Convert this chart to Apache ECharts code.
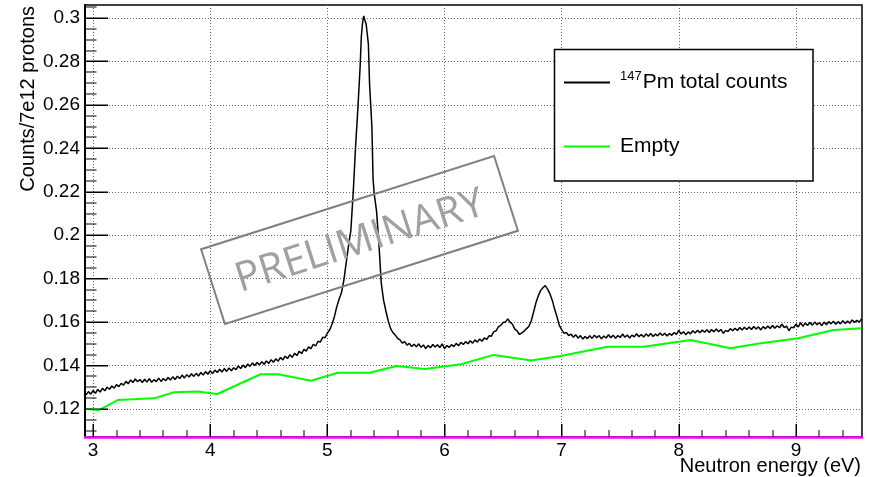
<!DOCTYPE html>
<html><head><meta charset="utf-8">
<script src="https://cdn.jsdelivr.net/npm/echarts@6/dist/echarts.min.js"></script>
<style>html,body{margin:0;padding:0;background:#fff}#c{width:870px;height:477px}</style>
</head><body><div id="c"></div>
<script>
// ---------------- data ----------------
const xTicks = [3, 4, 5, 6, 7, 8, 9];
const yTicks = [0.12, 0.14, 0.16, 0.18, 0.2, 0.22, 0.24, 0.26, 0.28, 0.3];
const xTitle = 'Neutron energy (eV)';
const yTitle = 'Counts/7e12 protons';
const seriesNames = ['147Pm total counts', 'Empty'];
const stampText = 'PRELIMINARY';

// [neutron energy (eV), counts / 7e12 protons]
const pmCounts = [
[2.94,0.1265],[2.96,0.1280],[2.98,0.1268],[3.00,0.1285],[3.02,0.1272],[3.04,0.1290],[3.06,0.1278],[3.08,0.1295],
[3.10,0.1284],[3.12,0.1300],[3.14,0.1291],[3.16,0.1306],[3.18,0.1296],[3.20,0.1312],[3.22,0.1303],[3.24,0.1318],
[3.26,0.1310],[3.28,0.1327],[3.30,0.1316],[3.32,0.1334],[3.34,0.1322],[3.36,0.1338],[3.38,0.1325],[3.40,0.1336],
[3.42,0.1322],[3.44,0.1337],[3.46,0.1324],[3.48,0.1340],[3.50,0.1323],[3.52,0.1335],[3.54,0.1326],[3.56,0.1342],
[3.58,0.1327],[3.60,0.1340],[3.62,0.1330],[3.64,0.1345],[3.66,0.1333],[3.68,0.1348],[3.70,0.1336],[3.72,0.1351],
[3.74,0.1340],[3.76,0.1356],[3.78,0.1343],[3.80,0.1358],[3.82,0.1347],[3.84,0.1362],[3.86,0.1350],[3.88,0.1364],
[3.90,0.1352],[3.92,0.1368],[3.94,0.1356],[3.96,0.1372],[3.98,0.1360],[4.00,0.1376],[4.02,0.1363],[4.04,0.1379],
[4.06,0.1368],[4.08,0.1383],[4.10,0.1370],[4.12,0.1386],[4.14,0.1373],[4.16,0.1389],[4.18,0.1376],[4.20,0.1390],
[4.22,0.1381],[4.24,0.1398],[4.26,0.1386],[4.28,0.1402],[4.30,0.1390],[4.32,0.1407],[4.34,0.1396],[4.36,0.1412],
[4.38,0.1400],[4.40,0.1414],[4.42,0.1403],[4.44,0.1418],[4.46,0.1406],[4.48,0.1421],[4.50,0.1410],[4.52,0.1427],
[4.54,0.1415],[4.56,0.1431],[4.58,0.1420],[4.60,0.1437],[4.62,0.1426],[4.64,0.1443],[4.66,0.1432],[4.68,0.1450],
[4.70,0.1438],[4.72,0.1456],[4.74,0.1446],[4.76,0.1466],[4.78,0.1455],[4.80,0.1474],[4.82,0.1466],[4.84,0.1486],
[4.86,0.1478],[4.88,0.1498],[4.90,0.1490],[4.92,0.1512],[4.94,0.1508],[4.96,0.1530],[4.98,0.1528],[5.00,0.1550],
[5.02,0.1565],[5.04,0.1590],[5.06,0.1625],[5.08,0.1670],[5.10,0.1705],[5.12,0.1735],[5.14,0.1790],[5.16,0.1870],
[5.18,0.1950],[5.20,0.2020],[5.22,0.2190],[5.24,0.2400],[5.26,0.2580],[5.27,0.2680],[5.28,0.2780],[5.29,0.2915],
[5.30,0.2975],[5.31,0.3010],[5.32,0.2990],[5.33,0.2975],[5.34,0.2930],[5.35,0.2880],[5.36,0.2700],[5.37,0.2600],
[5.38,0.2500],[5.39,0.2260],[5.40,0.2190],[5.42,0.2110],[5.44,0.1960],[5.46,0.1780],[5.48,0.1700],[5.50,0.1650],
[5.52,0.1605],[5.54,0.1570],[5.56,0.1552],[5.58,0.1540],[5.60,0.1525],[5.62,0.1518],[5.64,0.1503],[5.66,0.1510],
[5.68,0.1494],[5.70,0.1502],[5.72,0.1488],[5.74,0.1498],[5.76,0.1486],[5.78,0.1500],[5.80,0.1484],[5.82,0.1495],
[5.84,0.1478],[5.86,0.1492],[5.88,0.1482],[5.90,0.1497],[5.92,0.1485],[5.94,0.1496],[5.96,0.1483],[5.98,0.1500],
[6.00,0.1478],[6.02,0.1492],[6.04,0.1484],[6.06,0.1496],[6.08,0.1487],[6.10,0.1502],[6.12,0.1491],[6.14,0.1507],
[6.16,0.1497],[6.18,0.1510],[6.20,0.1500],[6.22,0.1514],[6.24,0.1503],[6.26,0.1518],[6.28,0.1508],[6.30,0.1522],
[6.32,0.1512],[6.34,0.1527],[6.36,0.1520],[6.38,0.1537],[6.40,0.1535],[6.42,0.1555],[6.44,0.1560],[6.46,0.1578],
[6.48,0.1585],[6.50,0.1598],[6.52,0.1600],[6.54,0.1615],[6.56,0.1600],[6.58,0.1590],[6.60,0.1568],[6.62,0.1560],
[6.64,0.1543],[6.66,0.1550],[6.68,0.1558],[6.70,0.1570],[6.72,0.1580],[6.74,0.1605],[6.76,0.1645],[6.78,0.1688],
[6.80,0.1720],[6.82,0.1745],[6.84,0.1758],[6.86,0.1768],[6.88,0.1752],[6.90,0.1730],[6.92,0.1700],[6.94,0.1660],
[6.96,0.1625],[6.98,0.1585],[7.00,0.1565],[7.02,0.1548],[7.04,0.1552],[7.06,0.1538],[7.08,0.1545],[7.10,0.1530],
[7.12,0.1542],[7.14,0.1526],[7.16,0.1538],[7.18,0.1522],[7.20,0.1534],[7.22,0.1524],[7.24,0.1537],[7.26,0.1525],
[7.28,0.1540],[7.30,0.1528],[7.32,0.1538],[7.34,0.1523],[7.36,0.1536],[7.38,0.1527],[7.40,0.1542],[7.42,0.1528],
[7.44,0.1540],[7.46,0.1526],[7.48,0.1538],[7.50,0.1529],[7.52,0.1545],[7.54,0.1530],[7.56,0.1541],[7.58,0.1527],
[7.60,0.1540],[7.62,0.1532],[7.64,0.1546],[7.66,0.1533],[7.68,0.1543],[7.70,0.1531],[7.72,0.1546],[7.74,0.1535],
[7.76,0.1548],[7.78,0.1534],[7.80,0.1545],[7.82,0.1537],[7.84,0.1550],[7.86,0.1538],[7.88,0.1549],[7.90,0.1536],
[7.92,0.1548],[7.94,0.1539],[7.96,0.1552],[7.98,0.1543],[8.00,0.1562],[8.02,0.1545],[8.04,0.1556],[8.06,0.1542],
[8.08,0.1555],[8.10,0.1546],[8.12,0.1560],[8.14,0.1550],[8.16,0.1562],[8.18,0.1551],[8.20,0.1564],[8.22,0.1553],
[8.24,0.1565],[8.26,0.1552],[8.28,0.1566],[8.30,0.1555],[8.32,0.1568],[8.34,0.1556],[8.36,0.1566],[8.38,0.1548],
[8.40,0.1562],[8.42,0.1556],[8.44,0.1570],[8.46,0.1560],[8.48,0.1572],[8.50,0.1561],[8.52,0.1575],[8.54,0.1564],
[8.56,0.1576],[8.58,0.1566],[8.60,0.1578],[8.62,0.1566],[8.64,0.1580],[8.66,0.1568],[8.68,0.1578],[8.70,0.1564],
[8.72,0.1579],[8.74,0.1569],[8.76,0.1582],[8.78,0.1570],[8.80,0.1584],[8.82,0.1572],[8.84,0.1583],[8.86,0.1574],
[8.88,0.1590],[8.90,0.1575],[8.92,0.1582],[8.94,0.1560],[8.96,0.1577],[8.98,0.1574],[9.00,0.1590],[9.02,0.1578],
[9.04,0.1598],[9.06,0.1580],[9.08,0.1596],[9.10,0.1585],[9.12,0.1598],[9.14,0.1586],[9.16,0.1600],[9.18,0.1588],
[9.20,0.1597],[9.22,0.1584],[9.24,0.1600],[9.26,0.1588],[9.28,0.1602],[9.30,0.1592],[9.32,0.1604],[9.34,0.1590],
[9.36,0.1602],[9.38,0.1592],[9.40,0.1606],[9.42,0.1594],[9.44,0.1605],[9.46,0.1595],[9.48,0.1610],[9.50,0.1598],
[9.52,0.1608],[9.54,0.1600],[9.56,0.1615]
];

const emptyCounts = [
[2.94,0.1200],[3.05,0.1195],[3.21,0.1241],[3.52,0.1249],[3.69,0.1277],[3.89,0.1280],[4.06,0.1269],
[4.43,0.1360],[4.58,0.1360],[4.86,0.1330],[5.09,0.1367],[5.36,0.1367],[5.59,0.1398],[5.83,0.1384],
[6.14,0.1406],[6.42,0.1449],[6.74,0.1423],[6.99,0.1444],[7.25,0.1472],[7.39,0.1487],[7.70,0.1487],
[8.10,0.1518],[8.44,0.1480],[8.70,0.1503],[9.02,0.1526],[9.32,0.1564],[9.56,0.1572]
];

// ---------------- layout / style ----------------
const X_MIN = 2.931, X_MAX = 9.564, Y_MIN = 0.1071, Y_MAX = 0.306;
const FONT = '"Liberation Sans", Arial, Helvetica, sans-serif';

// minor tick positions (0.2 eV on x, 0.005 on y), as in the ROOT frame
const xMinor = [];
xTicks.forEach(t => { for (let k = 1; k < 5; k++) { const v = Math.round((t + k * 0.2) * 10) / 10; if (v < X_MAX) xMinor.push(v); } });
const yMinor = [];
for (let i = 22; i <= 61; i++) { if (i % 4 !== 0) yMinor.push(Math.round(i * 5) / 1000); }

const chart = echarts.init(document.getElementById('c'));
const lblFmt = v => String(Math.round(v * 1000) / 1000);

const baseGraphic = [
  { type: 'rect', z: 3, silent: true, shape: { x: 554.5, y: 49.5, width: 258.5, height: 131.5 },
    style: { fill: '#fff', stroke: '#000', lineWidth: 1.5 } },
  { type: 'text', z: 5, x: 861, y: 466, style: { text: xTitle, font: '20px ' + FONT, fill: '#000', textAlign: 'right', textVerticalAlign: 'middle' } },
  { type: 'text', z: 5, x: 28, y: 6, rotation: Math.PI / 2, style: { text: yTitle, font: '20px ' + FONT, fill: '#000', textAlign: 'right', textVerticalAlign: 'middle' } },
  { type: 'group', z: 20, x: 359.5, y: 240, rotation: 17.66 * Math.PI / 180, silent: true, children: [
    { type: 'rect', z: 20, shape: { x: -153.75, y: -39.25, width: 307.5, height: 78.5 }, style: { fill: 'none', stroke: '#808080', lineWidth: 2 } },
    { type: 'text', z: 21, x: 0, y: 2, style: { text: stampText, font: '41px "Open Sans", "Noto Sans", sans-serif', fill: '#a0a0a0', textAlign: 'center', textVerticalAlign: 'middle' } }
  ]}
];

chart.setOption({
  animation: false,
  backgroundColor: '#fff',
  grid: { left: 85, right: 8, top: 5, bottom: 40, show: true, borderColor: '#000', borderWidth: 1.5 },
  xAxis: {
    type: 'value', min: X_MIN, max: X_MAX,
    axisLine: { show: true, lineStyle: { color: '#ff00ff', width: 2.5 } },
    axisTick: { show: true, inside: true, length: 13, customValues: xTicks.slice(), lineStyle: { color: '#000', width: 1 } },
    axisLabel: { show: true, customValues: xTicks.slice(), margin: 4, color: '#000', fontSize: 19, fontFamily: FONT, formatter: lblFmt },
    splitLine: { show: true, lineStyle: { color: '#666', width: 1, type: [1, 2] } }
  },
  yAxis: {
    type: 'value', min: Y_MIN, max: Y_MAX,
    axisLine: { show: true, lineStyle: { color: '#000', width: 2 } },
    axisTick: { show: true, inside: true, length: 23, customValues: yTicks.slice(), lineStyle: { color: '#000', width: 1 } },
    axisLabel: { show: true, customValues: yTicks.slice(), margin: 5, color: '#000', fontSize: 19, fontFamily: FONT, formatter: lblFmt },
    splitLine: { show: true, lineStyle: { color: '#666', width: 1, type: [1, 2] } }
  },
  legend: {
    show: true, orient: 'vertical', left: 563, top: 70, padding: 0, z: 10,
    itemWidth: 46, itemHeight: 14, itemGap: 41, selectedMode: false,
    itemStyle: { opacity: 0 },
    data: seriesNames,
    formatter: name => name === seriesNames[0] ? '{sup|147}{txt|Pm total counts}' : '{txt2|Empty}',
    textStyle: {
      color: '#000', fontFamily: FONT, fontSize: 21,
      rich: {
        sup: { fontSize: 13, fontFamily: FONT, color: '#000', padding: [0, 1, 12, 5], lineHeight: 24 },
        txt: { fontSize: 21, fontFamily: FONT, color: '#000', lineHeight: 24 },
        txt2: { fontSize: 21, fontFamily: FONT, color: '#000', lineHeight: 24, padding: [0, 0, 0, 5] }
      }
    }
  },
  graphic: baseGraphic,
  series: [
    { name: seriesNames[0], type: 'line', data: pmCounts, symbol: 'none', z: 3,
      lineStyle: { color: '#000', width: 1.5 }, itemStyle: { color: '#000' } },
    { name: seriesNames[1], type: 'line', data: emptyCounts, symbol: 'none', z: 2,
      lineStyle: { color: '#00ff00', width: 2 }, itemStyle: { color: '#00ff00' } }
  ]
});

// inward tick marks, placed through the chart's own axis scales
const tickEls = [];
function xTick(v, len) {
  const p = chart.convertToPixel({ gridIndex: 0 }, [v, Y_MIN]);
  tickEls.push({ type: 'rect', z: 4, silent: true, shape: { x: Math.round(p[0]) - 0.5, y: p[1] - len, width: 1, height: len }, style: { fill: '#000' } });
}
function yTick(v, len) {
  const p = chart.convertToPixel({ gridIndex: 0 }, [X_MIN, v]);
  tickEls.push({ type: 'rect', z: 4, silent: true, shape: { x: p[0], y: Math.round(p[1]) - 0.5, width: len, height: 1 }, style: { fill: '#000' } });
}
xTicks.forEach(v => xTick(v, 13));
xMinor.forEach(v => xTick(v, 7));
yTicks.forEach(v => yTick(v, 23));
yMinor.forEach(v => yTick(v, 11.5));
chart.setOption({ graphic: baseGraphic.concat(tickEls) });
</script>
</body></html>
